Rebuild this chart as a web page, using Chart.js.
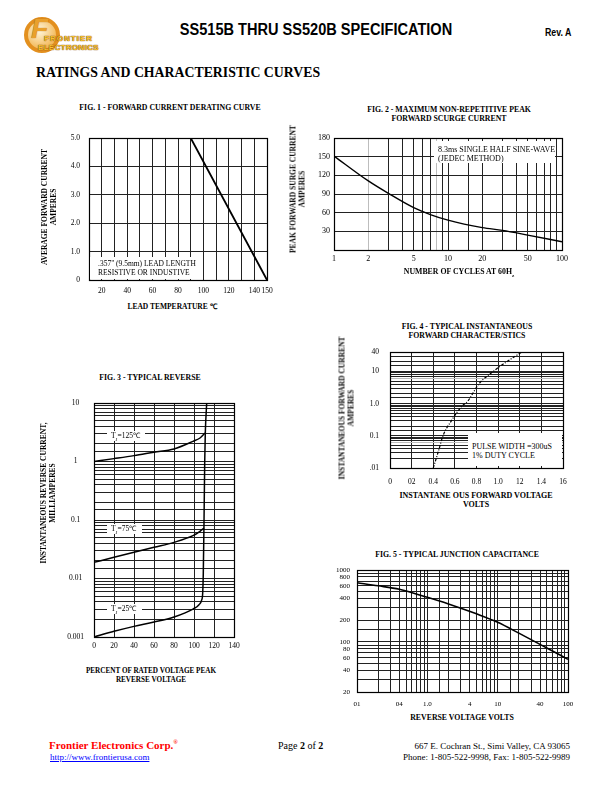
<!DOCTYPE html>
<html lang="en">
<head>
<meta charset="UTF-8">
<title>SS515B THRU SS520B SPECIFICATION</title>
<script src="https://cdn.jsdelivr.net/npm/chart.js"></script>
<style>
  body { margin: 0; background: #fff; }
  #page { position: relative; width: 612px; height: 792px; overflow: hidden; font-family: "Liberation Serif", serif; color: #000; }
  .abs { position: absolute; white-space: nowrap; }
  canvas.fig { position: absolute; }
  .ttl { font-weight: bold; font-size: 7.8px; line-height: 9px; text-align: center; transform: translateX(-50%); }
  .ytl { font-weight: bold; font-size: 7.5px; line-height: 8.5px; text-align: center; transform: translate(-50%, -50%) rotate(-90deg); }
  .box { position: absolute; background: #fff; }
  .note { font-size: 7.5px; line-height: 9px; }
  .logo { font: bold 8px 'Liberation Sans'; color: #f7c431; text-shadow: 0 0 1px #7a3c00, 0 0 1px #7a3c00; }
</style>
</head>
<body>
<div id="page">

	<!-- header -->
	<div class="abs" style="left:24px;top:17px;width:36px;height:36px;border-radius:50%;border:4px solid #e3901f;box-sizing:border-box;background:radial-gradient(circle at 40% 35%, #fff6dc, #f2b34c 80%);"></div>
	<div class="abs" style="left:31px;top:13px;font:italic bold 28px 'Liberation Sans';color:#e9a02c;text-shadow:0 0 1px #8a4a00;">F</div>
	<div class="abs logo" style="left:44px;top:34px;letter-spacing:1px;">FRONTIER</div>
	<div class="abs logo" style="left:38px;top:43px;letter-spacing:0.3px;">ELECTRONICS</div>

	<div class="abs" style="left:316px;top:21px;font:bold 16px 'Liberation Sans';transform:translateX(-50%) scaleX(0.91);">SS515B THRU SS520B SPECIFICATION</div>
	<div class="abs" style="left:545px;top:27px;font:bold 10px 'Liberation Sans';transform:scaleX(0.88);transform-origin:left;">Rev. A</div>
	<div class="abs" style="left:36px;top:64px;font:bold 15px 'Liberation Serif';transform:scaleX(0.92);transform-origin:left;">RATINGS AND CHARACTERISTIC CURVES</div>

	<!-- figure titles -->
	<div class="abs ttl" style="left:170px;top:103px;">FIG. 1 - FORWARD CURRENT DERATING CURVE</div>
	<div class="abs ttl" style="left:449px;top:105px;">FIG. 2 - MAXIMUM NON-REPETITIVE PEAK<br>FORWARD SCURGE CURRENT</div>
	<div class="abs ttl" style="left:150px;top:373px;">FIG. 3 - TYPICAL REVERSE</div>
	<div class="abs ttl" style="left:467px;top:323px;line-height:8.5px;">FIG. 4 - TYPICAL INSTANTANEOUS<br>FORWARD CHARACTER/STICS</div>
	<div class="abs ttl" style="left:457px;top:550px;">FIG. 5 - TYPICAL JUNCTION CAPACITANCE</div>

	<canvas class="fig" id="fig1"></canvas>
	<canvas class="fig" id="fig2"></canvas>
	<canvas class="fig" id="fig3"></canvas>
	<canvas class="fig" id="fig4"></canvas>
	<canvas class="fig" id="fig5"></canvas>

	<!-- axis titles -->
	<div class="abs ytl" style="left:49px;top:207px;">AVERAGE FORWARD CURRENT<br>AMPERES</div>
	<div class="abs ttl" style="left:172px;top:302px;font-size:7.5px;">LEAD TEMPERATURE &#8451;</div>

	<div class="abs ytl" style="left:298px;top:189px;">PEAK FORWARD SURGE CURRENT<br>AMPERES</div>
	<div class="abs ttl" style="left:459px;top:267px;">NUMBER OF CYCLES AT 60H<sub style="font-size:5px;">z</sub></div>

	<div class="abs ytl" style="left:48px;top:493px;">INSTANTANEOUS REVERSE CURRENT,<br>MILLIAMPERES</div>
	<div class="abs ttl" style="left:151px;top:667px;font-size:7.2px;">PERCENT OF RATED VOLTAGE PEAK<br>REVERSE VOLTAGE</div>

	<div class="abs ytl" style="left:347px;top:408px;">INSTANTANEOUS FORWARD CURRENT<br>AMPERES</div>
	<div class="abs ttl" style="left:476px;top:492px;line-height:8.5px;font-size:8px;">INSTANTANE OUS FORWARD VOLTAGE<br>VOLTS</div>

	<div class="abs ttl" style="left:462px;top:713px;">REVERSE VOLTAGE VOLTS</div>

	<!-- notes inside the plots -->
	<div class="box" style="left:90px;top:257px;width:110px;height:22px;"></div>
	<div class="abs note" style="left:98px;top:259px;">.357" (9.5mm) LEAD LENGTH<br>RESISTIVE OR INDUSTIVE</div>

	<div class="box" style="left:434px;top:141px;width:121px;height:22px;"></div>
	<div class="abs note" style="left:438px;top:145px;font-size:8px;">8.3ms SINGLE HALF SINE-WAVE<br>(JEDEC METHOD)</div>

	<div class="box" style="left:107px;top:431px;width:38px;height:10px;"></div>
	<div class="abs note" style="left:111px;top:431px;">T<sub style="font-size:5px;">J</sub>=125&#8451;</div>
	<div class="box" style="left:107px;top:524px;width:35px;height:10px;"></div>
	<div class="abs note" style="left:111px;top:524px;">T<sub style="font-size:5px;">J</sub>=75&#8451;</div>
	<div class="box" style="left:107px;top:604px;width:35px;height:10px;"></div>
	<div class="abs note" style="left:111px;top:604px;">T<sub style="font-size:5px;">J</sub>=25&#8451;</div>

	<div class="box" style="left:468px;top:433px;width:94px;height:33px;"></div>
	<div class="abs note" style="left:472px;top:442px;font-size:8px;">PULSE WIDTH =300uS<br>1% DUTY CYCLE</div>

	<!-- footer -->
	<div class="abs" style="left:49px;top:739px;font:bold 11px 'Liberation Serif';color:#f00;">Frontier Electronics Corp.<sup style="font-size:6px;">&reg;</sup></div>
	<div class="abs" style="left:50px;top:752px;font:9px 'Liberation Serif';color:#00f;text-decoration:underline;">http://www.frontierusa.com</div>
	<div class="abs" style="left:278px;top:740px;font:10px 'Liberation Serif';">Page <b>2</b> of <b>2</b></div>
	<div class="abs" style="right:42px;top:741px;font:9px 'Liberation Serif';text-align:right;line-height:10.5px;">667 E. Cochran St., Simi Valley, CA 93065<br>Phone: 1-805-522-9998, Fax: 1-805-522-9989</div>
</div>

<script>

	// Fig. 1 - forward current derating curve
	const fig1Temp = [10, 90, 150];
	const fig1Amps = [5.0, 5.0, 0];
	const fig1XTicks = [20, 40, 60, 80, 100, 120, 140, 150];
	const fig1YLabels = ["0", "1.0", "2.0", "3.0", "4.0", "5.0"];

	// Fig. 2 - surge current vs number of cycles
	const fig2Cycles = [1, 2, 3, 5, 7, 10, 20, 30, 50, 100];
	const fig2Amps = [151, 111, 91, 68, 57, 48, 36, 31.5, 24, 13.3];
	const fig2XTicks = [1, 2, 5, 10, 20, 50, 100];
	const fig2YTicks = [30, 60, 90, 120, 150, 180];

	// Fig. 3 - typical reverse current (mA) vs percent of rated voltage
	const fig3Pct125 = [0, 20, 40, 60, 80, 99, 106, 111];
	const fig3Ir125 = [1.0, 1.12, 1.26, 1.44, 1.64, 2.21, 2.52, 3.07];
	const fig3Pct75 = [0, 20, 40, 60, 80, 99, 106, 110];
	const fig3Ir75 = [0.0189, 0.023, 0.028, 0.0341, 0.0415, 0.054, 0.064, 0.073];
	const fig3Pct25 = [0, 20, 40, 60, 80, 99, 105, 107.7, 108.7, 109.3, 110, 110.7, 111.3, 112.7];
	const fig3Ir25 = [0.001, 0.00125, 0.00152, 0.0018, 0.0022, 0.0030, 0.00357, 0.0043, 0.00565, 0.0124, 0.089, 0.94, 3.07, 10];
	const fig3YTicks = [0.001, 0.01, 0.1, 1, 10];
	const fig3YLabels = ["0.001", "0.01", "0.1", "1", "10"];

	// Fig. 4 - forward characteristics
	const fig4Volts = [0.40, 0.45, 0.49, 0.57, 0.66, 0.72, 0.82, 0.955, 1.08, 1.22];
	const fig4Amps = [0.01, 0.035, 0.1, 0.3, 0.8, 1.2, 4, 10, 20, 40];
	const fig4XLabels = ["0", "02", "0.4", "0.6", "0.8", "1.0", "12", "1.4", "16"];
	const fig4YTicks = [0.01, 0.1, 1, 10, 40];
	const fig4YLabels = [".01", "0.1", "1.0", "10", "40"];

	// Fig. 5 - junction capacitance (pF) vs reverse voltage
	const fig5Volts = [0.1, 0.2, 0.4, 1, 2, 5, 10, 20, 50, 100];
	const fig5Pf = [666, 603, 538, 416, 337, 245, 187, 132, 82, 57];
	const fig5XTicks = [0.1, 0.4, 1, 4, 10, 40, 100];
	const fig5XLabels = ["01", "04", "1.0", "4", "10", "40", "100"];
	const fig5YTicks = [20, 40, 60, 80, 100, 200, 400, 600, 800, 1000];

	Chart.defaults.font.family = '"Liberation Serif", serif';
	Chart.defaults.color = "#000";
	Chart.defaults.animation = false;

	const frame = {
		id: "frame",
		afterDraw(chart) {
			const a = chart.chartArea, c = chart.ctx;
			c.save();
			c.strokeStyle = "#000";
			c.lineWidth = 1.2;
			c.strokeRect(Math.round(a.left) + 0.5, Math.round(a.top) + 0.5, Math.round(a.right - a.left), Math.round(a.bottom - a.top));
			c.restore();
		}
	};

	function pts(xs, ys) {
		return xs.map((x, i) => ({ x: x, y: ys[i] }));
	}

	function idx(v, list) {
		return list.findIndex(t => Math.abs(t - v) <= Math.abs(t) * 1e-6);
	}

	function pick(v, list, labels) {
		const i = idx(v, list);
		return i < 0 ? "" : (labels ? labels[i] : String(list[i]));
	}

	// plot area on the page: [left, top, right, bottom]
	function place(id, box) {
		const cv = document.getElementById(id);
		cv.width = box[2] - box[0] + 50;
		cv.height = box[3] - box[1] + 24;
		cv.style.left = (box[0] - 44) + "px";
		cv.style.top = (box[1] - 6) + "px";
		return cv;
	}

	function xAxis(type, o) {
		return Object.assign({
			type: type,
			border: { display: false },
			grid: { color: "#222", lineWidth: 1, drawTicks: false },
			afterFit: s => { s.height = 18; s.paddingLeft = 0; s.paddingRight = 0; },
		}, o);
	}

	function yAxis(type, o) {
		return Object.assign({
			type: type,
			border: { display: false },
			grid: { color: "#222", lineWidth: 1, drawTicks: false },
			afterFit: s => { s.width = 44; s.paddingTop = 0; s.paddingBottom = 0; },
		}, o);
	}

	function curve(data, width, extra) {
		return Object.assign({
			data: data,
			borderColor: "#000",
			borderWidth: width,
			pointRadius: 0,
			fill: false,
			cubicInterpolationMode: "monotone",
		}, extra);
	}

	function make(id, box, datasets, scales) {
		return new Chart(place(id, box), {
			type: "line",
			data: { datasets: datasets },
			options: {
				responsive: false,
				devicePixelRatio: 1,
				layout: { padding: { left: 0, top: 6, right: 6, bottom: 0 } },
				plugins: { legend: { display: false }, tooltip: { enabled: false } },
				scales: scales,
			},
			plugins: [frame],
		});
	}

	make("fig1", [89, 138, 267, 280],
		[curve(pts(fig1Temp, fig1Amps), 1.8, { cubicInterpolationMode: "default", tension: 0 })],
		{
			x: xAxis("linear", {
				min: 10, max: 150,
				ticks: { stepSize: 10, autoSkip: false, maxRotation: 0, padding: 7, font: { size: 7.5 },
					callback: v => fig1XTicks.includes(v) ? String(v) : "" },
			}),
			y: yAxis("linear", {
				min: 0, max: 5,
				ticks: { stepSize: 1, padding: 9, font: { size: 7.5 }, callback: v => fig1YLabels[v] },
			}),
		});

	make("fig2", [334, 138, 562, 250],
		[curve(pts(fig2Cycles, fig2Amps), 1.4)],
		{
			x: xAxis("logarithmic", {
				min: 1, max: 100,
				grid: { drawTicks: false, lineWidth: 1,
					color: c => (c.tick && idx(c.tick.value, [2, 8]) >= 0) ? "#bdbdbd" : "#222" },
				ticks: { autoSkip: false, maxRotation: 0, padding: 4, font: { size: 8 },
					callback: v => pick(v, fig2XTicks) },
			}),
			y: yAxis("linear", {
				min: 0, max: 180,
				ticks: { stepSize: 30, padding: 4, font: { size: 8 }, callback: v => pick(v, fig2YTicks) },
			}),
		});

	make("fig3", [94, 403, 234, 637],
		[
			curve(pts(fig3Pct125, fig3Ir125), 1.5),
			curve(pts(fig3Pct75, fig3Ir75), 1.5),
			curve(pts(fig3Pct25, fig3Ir25), 1.5),
		],
		{
			x: xAxis("linear", {
				min: 0, max: 140,
				ticks: { stepSize: 20, autoSkip: false, maxRotation: 0, padding: 5, font: { size: 7.5 } },
			}),
			y: yAxis("logarithmic", {
				min: 0.001, max: 10,
				ticks: { autoSkip: false, padding: 10, crossAlign: "center", font: { size: 7.5 },
					callback: v => pick(v, fig3YTicks, fig3YLabels) },
			}),
		});

	make("fig4", [390, 352, 563, 468],
		[curve(pts(fig4Volts, fig4Amps), 1.2, { borderDash: [3, 1.5, 1, 1.5] })],
		{
			x: xAxis("linear", {
				min: 0, max: 1.6,
				ticks: { stepSize: 0.2, autoSkip: false, maxRotation: 0, padding: 10, font: { size: 7.5 },
					callback: (v, i) => fig4XLabels[i] },
			}),
			y: yAxis("logarithmic", {
				min: 0.01, max: 40,
				grid: { drawTicks: false, lineWidth: 1,
					color: c => (c.tick && idx(c.tick.value, [6, 0.06]) >= 0) ? "#bdbdbd" : "#222" },
				ticks: { autoSkip: false, padding: 11, font: { size: 7.5 },
					callback: v => pick(v, fig4YTicks, fig4YLabels) },
			}),
		});

	make("fig5", [357, 570, 568, 692],
		[curve(pts(fig5Volts, fig5Pf), 1.6)],
		{
			x: xAxis("logarithmic", {
				min: 0.1, max: 100,
				ticks: { autoSkip: false, maxRotation: 0, padding: 8, font: { size: 7 },
					callback: v => pick(v, fig5XTicks, fig5XLabels) },
			}),
			y: yAxis("logarithmic", {
				min: 20, max: 1000,
				ticks: { autoSkip: false, padding: 7, font: { size: 7 },
					callback: v => pick(v, fig5YTicks) },
			}),
		});

</script>
</body>
</html>
